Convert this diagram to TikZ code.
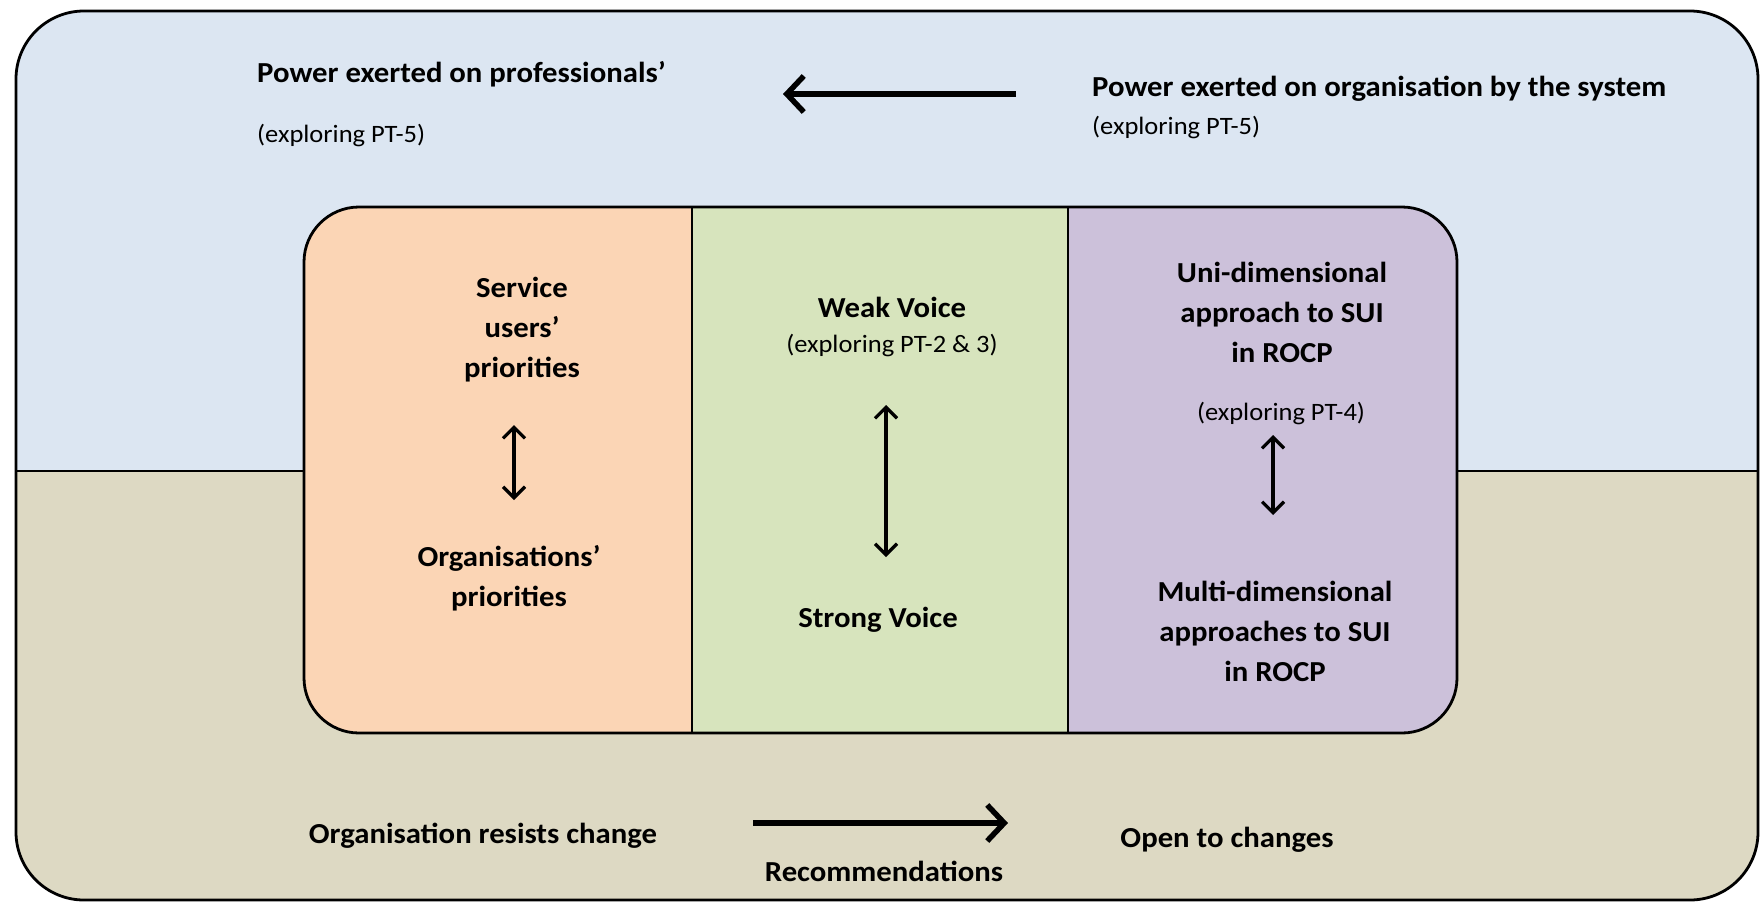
\documentclass[tikz,border=0pt]{standalone}
\usepackage{fontspec}
\setmainfont{Carlito}[FakeStretch=1.06]
\usepackage{tikz}
\usetikzlibrary{arrows.meta, positioning}

\definecolor{skyfill}{HTML}{DCE6F2}
\definecolor{sandfill}{HTML}{DDD9C3}
\definecolor{peachfill}{HTML}{FBD5B5}
\definecolor{leaffill}{HTML}{D7E4BD}
\definecolor{lilacfill}{HTML}{CCC1DA}

\begin{document}
\begin{tikzpicture}[x=1pt,y=-1pt]
 \tikzstyle{lbl}=[font=\fontsize{29}{40}\selectfont\bfseries,align=center,
   inner sep=0pt]
 \tikzstyle{note}=[font=\fontsize{25}{30}\selectfont,inner sep=0pt]
 \tikzstyle{frame}=[draw=black,line width=2.8pt]
 \tikzstyle{bigarrow}=[line width=6.5pt,
   -{Straight Barb[length=17pt,width=36pt,line width=5.5pt]}]
 \tikzstyle{swing}=[line width=3.2pt,
   {Straight Barb[length=11pt,width=22pt]}-{Straight Barb[length=11pt,width=22pt]}]
 \useasboundingbox (0,0) rectangle (1762,903);

 % outer frame: system level on top, organisation below
 \begin{scope}
  \clip[rounded corners=68pt] (16,11) rectangle (1758,900);
  \fill[skyfill] (16,11) rectangle (1758,471);
  \fill[sandfill] (16,471) rectangle (1758,900);
 \end{scope}
 \draw[frame] (16,471) -- (1758,471);
 \draw[frame,rounded corners=68pt] (16,11) rectangle (1758,900);

 % three columns in the middle
 \begin{scope}
  \clip[rounded corners=55pt] (304,207) rectangle (1457,733);
  \fill[peachfill] (304,207) rectangle (692,733);
  \fill[leaffill] (692,207) rectangle (1068,733);
  \fill[lilacfill] (1068,207) rectangle (1457,733);
 \end{scope}
 \draw[frame] (692,207) -- (692,733);
 \draw[frame] (1068,207) -- (1068,733);
 \draw[frame,rounded corners=55pt] (304,207) rectangle (1457,733);

 % top row
 \node (profP) [lbl,anchor=west] at (257,74) {Power exerted on professionals’};
 \node (profX) [note,anchor=west] at (257,135) {(exploring PT-5)};
 \node (sysP) [lbl,anchor=west] at (1092,89) {Power exerted on organisation by the system};
 \node (sysX) [note,anchor=west] at (1092,127) {(exploring PT-5)};
 \coordinate (pwrR) at (1016,94);
 \coordinate (pwrL) at (783,94);
 \draw[bigarrow] (pwrR) -- (pwrL);

 % priorities
 \node (svc) [lbl] at (522,330) {Service\\users’\\priorities};
 \node (orgp) [lbl] at (509,578) {Organisations’\\priorities};
 \coordinate (svcA) at (514,425);
 \coordinate (svcB) at (514,500);
 \draw[swing] (svcA) -- (svcB);

 % voice
 \node (weak) [lbl] at (892,307) {Weak Voice};
 \node (weakX) [note] at (892,345) {(exploring PT-2 \& 3)};
 \node (strong) [lbl] at (878,620) {Strong Voice};
 \coordinate (voiceA) at (886,405);
 \coordinate (voiceB) at (886,557);
 \draw[swing] (voiceA) -- (voiceB);

 % approaches to SUI
 \node (uni) [lbl] at (1282,312) {Uni-dimensional\\approach to SUI\\in ROCP};
 \node (uniX) [note] at (1281,413) {(exploring PT-4)};
 \node (multi) [lbl] at (1275,631) {Multi-dimensional\\approaches to SUI\\in ROCP};
 \coordinate (suiA) at (1273,435);
 \coordinate (suiB) at (1273,515);
 \draw[swing] (suiA) -- (suiB);

 % bottom row
 \node (resist) [lbl] at (483,836) {Organisation resists change};
 \node (open) [lbl] at (1227,840) {Open to changes};
 \node (recom) [lbl] at (884,871) {Recommendations};
 \coordinate (recL) at (753,823);
 \coordinate (recR) at (1008,823);
 \draw[bigarrow] (recL) -- (recR);
\end{tikzpicture}
\end{document}
